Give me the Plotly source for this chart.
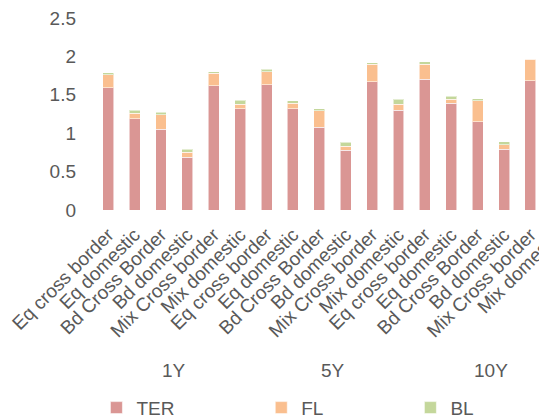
import plotly.graph_objects as go

# ---- data ----
categories = ["Eq cross border", "Eq domestic", "Bd Cross Border", "Bd domestic",
              "Mix Cross border", "Mix domestic"] * 3
periods = ["1Y", "5Y", "10Y"]
ter = [1.59, 1.19, 1.05, 0.69, 1.62, 1.32,
       1.63, 1.32, 1.08, 0.78, 1.67, 1.30,
       1.70, 1.39, 1.15, 0.79, 1.68, 1.30]
fl = [0.17, 0.07, 0.19, 0.06, 0.16, 0.06,
      0.17, 0.07, 0.21, 0.05, 0.23, 0.08,
      0.20, 0.05, 0.27, 0.06, 0.28, 0.08]
bl = [0.03, 0.04, 0.03, 0.04, 0.02, 0.05,
      0.03, 0.03, 0.03, 0.05, 0.02, 0.06,
      0.03, 0.04, 0.03, 0.04, 0.01, 0.05]
series_names = ["TER", "FL", "BL"]
colors = ["#DA9694", "#FABF8F", "#C4D79B"]

FONT = "Liberation Sans, Arial, sans-serif"
GREY = "#595959"
xs = list(range(len(categories)))

legend_ids = ["legend", "legend2", "legend3"]
legend_x = [0.003, 0.35, 0.664]

fig = go.Figure()
for name, vals, col, lg in zip(series_names, [ter, fl, bl], colors, legend_ids):
    fig.add_trace(go.Bar(
        x=xs, y=vals, name=name, legend=lg, showlegend=True,
        marker=dict(color=col, line=dict(color="rgba(255,255,255,0.55)", width=1)),
    ))

n_per = len(categories) // len(periods)
annotations = []
for i, p in enumerate(periods):
    annotations.append(dict(
        x=i * n_per + (n_per - 1) / 2, y=-0.835, xref="x", yref="paper",
        text=p, showarrow=False, xanchor="center", yanchor="middle",
        font=dict(family=FONT, size=19, color=GREY)))

legend_common = dict(y=-1.03, xanchor="left", yanchor="middle",
                     bgcolor="rgba(0,0,0,0)", visible=True,
                     font=dict(family=FONT, size=19, color=GREY))

fig.update_layout(
    width=562, height=440,
    margin=dict(l=85, r=0, t=7, b=238),
    barmode="stack", bargap=0.585,
    showlegend=True,
    plot_bgcolor="white", paper_bgcolor="white",
    font=dict(family=FONT, size=19, color=GREY),
    xaxis=dict(range=[-0.5, len(xs) - 0.5], tickmode="array", tickvals=xs,
               ticktext=categories, tickangle=-45, showgrid=False,
               showline=False, zeroline=False, ticks="",
               ticklabeloverflow="allow", ticklabelstandoff=9,
               tickfont=dict(family=FONT, size=19, color=GREY)),
    yaxis=dict(range=[0, 2.5], dtick=0.5, showgrid=False, zeroline=False,
               showline=False, ticks="", ticklabelstandoff=18,
               ticklabeloverflow="allow",
               tickfont=dict(family=FONT, size=19, color=GREY)),
    legend=dict(x=legend_x[0], **legend_common),
    legend2=dict(x=legend_x[1], **legend_common),
    legend3=dict(x=legend_x[2], **legend_common),
    annotations=annotations,
)

fig.write_html("out.html")
